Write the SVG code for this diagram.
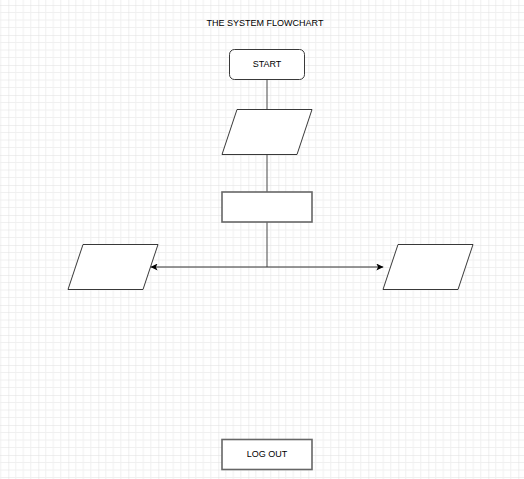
<svg xmlns="http://www.w3.org/2000/svg" width="524" height="479" viewBox="0 0 524 479">
  <defs>
    <pattern id="grid" patternUnits="userSpaceOnUse" x="8.3" y="5" width="30" height="30">
      <path d="M7.5 0V30M15 0V30M22.5 0V30M0 7.5H30M0 15H30M0 22.5H30" fill="none" stroke="#f0f0f0" stroke-width="1"/>
      <path d="M0 0V30M0 0H30" fill="none" stroke="#e0e0e0" stroke-width="1"/>
    </pattern>
    <marker id="arrow" viewBox="0 0 10 10" refX="10" refY="5" markerWidth="7" markerHeight="7" markerUnits="userSpaceOnUse" orient="auto">
      <path d="M0 0L10 5L0 10L2.5 5Z" fill="#000"/>
    </marker>
    <style>
      .thin { fill: #fff; stroke: #222; stroke-width: 0.9; }
      .thick { fill: #fff; stroke: #666; stroke-width: 1.6; }
      .conn { fill: none; stroke: #666; stroke-width: 1.2; }
      .lbl { font-family: "Liberation Sans", Arial, sans-serif; font-size: 9px; fill: #000; text-anchor: middle; dominant-baseline: central; }
    </style>
  </defs>
  <rect x="0" y="0" width="524" height="479" fill="#fff"/>
  <rect x="0" y="0" width="524" height="479" fill="url(#grid)"/>

  <text class="lbl" x="265" y="23">THE SYSTEM FLOWCHART</text>

  <g id="connectors">
    <path class="conn" d="M267 79.5V109.5"/>
    <path class="conn" d="M267 154.5V192"/>
    <path class="conn" d="M267 222V267"/>
    <path class="conn" d="M267 267H150.6" marker-end="url(#arrow)" style="stroke:#333"/>
    <path class="conn" d="M267 267H383.3" marker-end="url(#arrow)" style="stroke:#333"/>
  </g>

  <g id="start">
    <rect class="thin" x="229.5" y="49.5" width="75" height="30" rx="5"/>
    <text class="lbl" x="267" y="63.5">START</text>
  </g>
  <g id="input1">
    <polygon class="thin" points="237,109.5 312,109.5 297,154.5 222,154.5"/>
  </g>
  <g id="process1">
    <rect class="thick" x="222" y="192" width="90" height="30"/>
  </g>
  <g id="outputLeft">
    <polygon class="thin" points="83,244.5 158,244.5 143,289.5 68,289.5"/>
  </g>
  <g id="outputRight">
    <polygon class="thin" points="398,244.5 473,244.5 458,289.5 383,289.5"/>
  </g>
  <g id="logout">
    <rect class="thick" x="222" y="439.5" width="90" height="30"/>
    <text class="lbl" x="267" y="454">LOG OUT</text>
  </g>
</svg>
